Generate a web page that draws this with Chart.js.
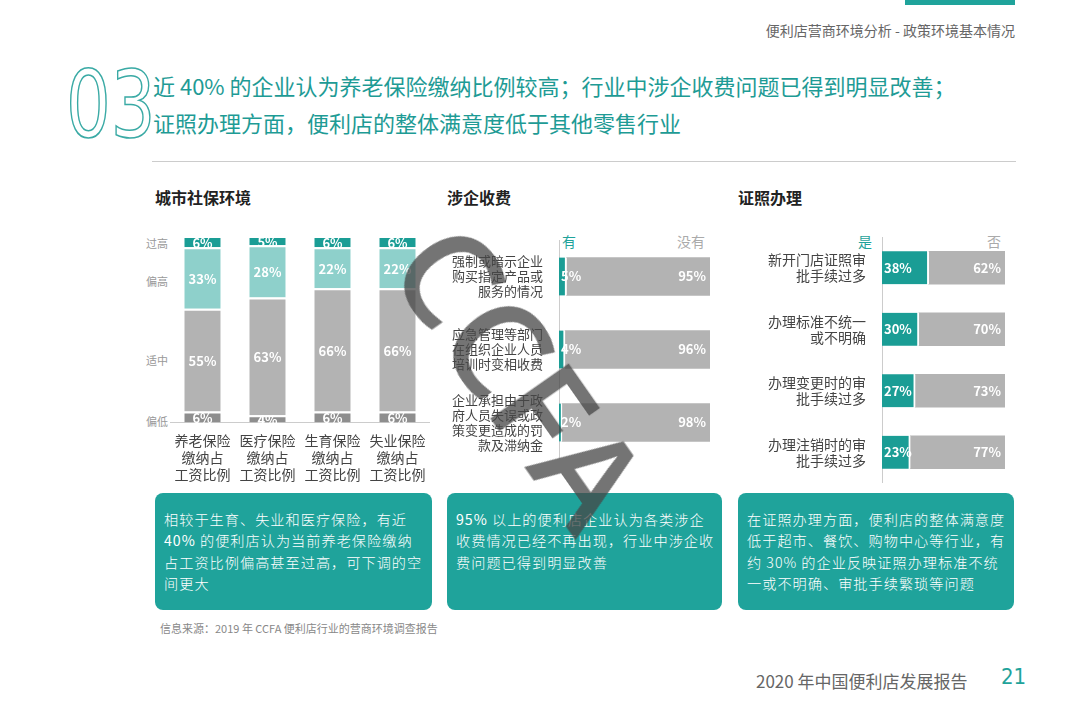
<!DOCTYPE html>
<html><head><meta charset="utf-8">
<script src="https://cdn.jsdelivr.net/npm/chart.js@4"></script>
<style>
body{margin:0;width:1080px;height:722px;position:relative;background:#fff;font-family:"Noto Sans CJK SC","Noto Sans",sans-serif;overflow:hidden}
.a{position:absolute}
.box{position:absolute;top:493px;height:117px;background:#1fa39b;border-radius:8px;color:#fff;font-size:14.2px;letter-spacing:1px;line-height:21.3px;padding:16px 7px 0 9px;box-sizing:border-box;font-weight:300}
.h{position:absolute;top:185px;font-size:16px;font-weight:bold;color:#222}
.yl{position:absolute;left:146px;font-size:11px;color:#999}
</style></head><body>
<div class="a" style="left:905px;top:0;width:110px;height:5px;background:#1fa39b"></div>
<div class="a" style="right:65px;top:20px;font-size:14px;color:#666">便利店营商环境分析 - 政策环境基本情况</div>
<div class="a" style="left:66px;top:52px;font-size:92px;font-family:'Liberation Sans Narrow','DejaVu Sans Condensed';font-weight:normal;color:transparent;-webkit-text-stroke:1.6px #3aaaa5;transform:scaleX(0.85);transform-origin:left top">03</div>
<div class="a" style="left:153px;top:67px;font-size:22px;color:#1e9b95;line-height:37px">近 40% 的企业认为养老保险缴纳比例较高；行业中涉企收费问题已得到明显改善；<br>证照办理方面，便利店的整体满意度低于其他零售行业</div>
<div class="a" style="left:152px;top:161px;width:864px;height:1px;background:#ccc"></div>
<div class="h" style="left:155px">城市社保环境</div>
<div class="h" style="left:447px">涉企收费</div>
<div class="h" style="left:738px">证照办理</div>
<div class="yl" style="top:235px">过高</div>
<div class="yl" style="top:273px">偏高</div>
<div class="yl" style="top:352px">适中</div>
<div class="yl" style="top:413px">偏低</div>
<div class="a" style="left:562px;top:231px;font-size:14px;color:#1fa39b">有</div>
<div class="a" style="left:677px;top:231px;font-size:14px;color:#aaa">没有</div>
<div class="a" style="left:858px;top:231px;font-size:14px;color:#1fa39b">是</div>
<div class="a" style="left:987px;top:231px;font-size:14px;color:#aaa">否</div>
<div class="a" style="left:170px;top:230px;width:260px;height:255px"><canvas id="c1"></canvas></div>
<div class="a" style="left:438px;top:240px;width:272px;height:219px"><canvas id="c2"></canvas></div>
<div class="a" style="left:735px;top:237px;width:270px;height:246px"><canvas id="c3"></canvas></div>
<div class="box" style="left:155px;width:277px">相较于生育、失业和医疗保险，有近 <b>40%</b> 的便利店认为当前养老保险缴纳占工资比例偏高甚至过高，可下调的空间更大</div>
<div class="box" style="left:447px;width:275px"><b>95%</b> 以上的便利店企业认为各类涉企收费情况已经不再出现，行业中涉企收费问题已得到明显改善</div>
<div class="box" style="left:738px;width:276px">在证照办理方面，便利店的整体满意度低于超市、餐饮、购物中心等行业，有约 30% 的企业反映证照办理标准不统一或不明确、审批手续繁琐等问题</div>
<div class="a" style="z-index:5;font-size:135px;font-weight:600;font-family:'Open Sans';color:rgba(70,70,70,0.75);transform:rotate(55deg);transform-origin:left top;left:482px;top:200px;line-height:1">CCFA</div>
<div class="a" style="left:160px;top:620px;font-size:11px;color:#888">信息来源：2019 年 CCFA 便利店行业的营商环境调查报告</div>
<div class="a" style="left:756px;top:668px;font-size:17px;color:#666">2020 年中国便利店发展报告</div>
<div class="a" style="left:1001px;top:664px;font-size:22px;font-weight:200;font-family:'DejaVu Sans Condensed';color:#1fa39b">21</div>
<script>
const socialCats=[["养老保险","缴纳占","工资比例"],["医疗保险","缴纳占","工资比例"],["生育保险","缴纳占","工资比例"],["失业保险","缴纳占","工资比例"]];
const low=[6,4,6,6], mid=[55,63,66,66], high=[33,28,22,22], tooHigh=[6,5,6,6];
const feeCats=[["强制或暗示企业","购买指定产品或","服务的情况"],["应急管理等部门","在组织企业人员","培训时变相收费"],["企业承担由于政","府人员失误或政","策变更造成的罚","款及滞纳金"]];
const feeYes=[5,4,2], feeNo=[95,96,98];
const licCats=[["新开门店证照审","批手续过多"],["办理标准不统一","或不明确"],["办理变更时的审","批手续过多"],["办理注销时的审","批手续过多"]];
const licYes=[38,30,27,23], licNo=[62,70,73,77];
const F='"Noto Sans CJK SC","Noto Sans",sans-serif';
Chart.defaults.font.family=F;Chart.defaults.animation=false;
const lbl={id:'lbl',afterDatasetsDraw(c){const x=c.ctx;c.data.datasets.forEach((d,i)=>{c.getDatasetMeta(i).data.forEach((e,j)=>{x.save();x.fillStyle='#fff';x.font='bold 13px '+F;x.textBaseline='middle';const t=d.data[j]+'%';const m=d.lm||'center';if(m==='center'){x.textAlign='center';x.fillText(t,e.x,(e.y+e.base)/2+1);}else if(m==='start'){x.textAlign='left';x.fillText(t,e.base+2,e.y);}else{x.textAlign='right';x.fillText(t,e.x-4,e.y);}x.restore();});});}};
new Chart(c1,{type:'bar',data:{labels:socialCats,datasets:[
{data:low,backgroundColor:'#8e8e8e'},{data:mid,backgroundColor:'#b3b3b3'},{data:high,backgroundColor:'#8ed0cb'},{data:tooHigh,backgroundColor:'#1a9d95'}].map(d=>Object.assign(d,{borderColor:'#fff',borderWidth:{top:2},borderSkipped:false,categoryPercentage:0.56,barPercentage:1}))},
options:{responsive:true,maintainAspectRatio:false,plugins:{legend:{display:false},tooltip:{enabled:false}},layout:{padding:{top:6}},
scales:{x:{stacked:true,grid:{display:false},border:{display:true,color:'#ccc'},ticks:{color:'#444',font:{size:14},padding:2}},y:{stacked:true,display:false,max:100}}},plugins:[lbl]});
function hbar(id,cats,a,b,w,th,fs){new Chart(document.getElementById(id),{type:'bar',data:{labels:cats,datasets:[
{data:a,backgroundColor:'#1a9d95',lm:'start',barThickness:th,borderColor:'#fff',borderWidth:{right:2},borderSkipped:false},
{data:b,backgroundColor:'#b3b3b3',lm:'end',barThickness:th}]},
options:{indexAxis:'y',responsive:true,maintainAspectRatio:false,plugins:{legend:{display:false},tooltip:{enabled:false}},
scales:{x:{stacked:true,display:false,max:100},y:{stacked:true,grid:{display:false},border:{display:true,color:'#ccc'},afterFit:s=>{s.width=w;s.paddingTop=0;s.paddingBottom=0;},ticks:{autoSkip:false,color:'#444',font:{size:fs,lineHeight:1.15},padding:8}}}},plugins:[lbl]});}
hbar('c2',feeCats,feeYes,feeNo,121,38,13);
hbar('c3',licCats,licYes,licNo,147,33,14);
</script></body></html>
